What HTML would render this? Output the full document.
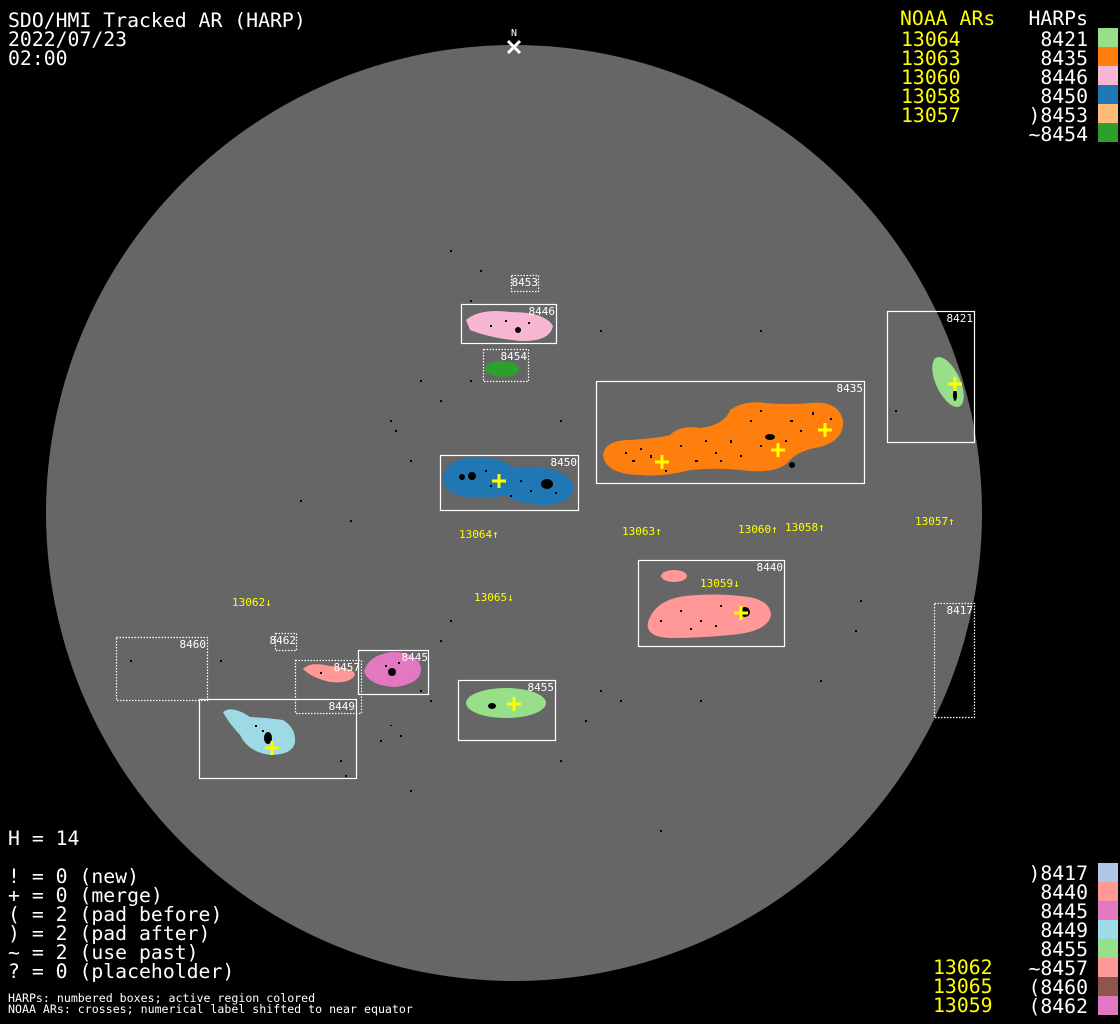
<!DOCTYPE html>
<html><head><meta charset="utf-8"><style>
html,body{margin:0;padding:0;background:#000;width:1120px;height:1024px;overflow:hidden}
svg{display:block}
.m{font-family:"DejaVu Sans Mono","Liberation Mono",monospace}
</style></head><body>
<svg width="1120" height="1024" viewBox="0 0 1120 1024" xmlns="http://www.w3.org/2000/svg">
<rect width="1120" height="1024" fill="#000"/>
<circle cx="514" cy="513" r="468" fill="#666"/>
<!-- scattered specks -->
<g fill="#000">
<rect x="450" y="250" width="2" height="2"/><rect x="470" y="300" width="2" height="2"/><rect x="420" y="380" width="2" height="2"/>
<rect x="390" y="420" width="2" height="2"/><rect x="600" y="330" width="2" height="2"/><rect x="560" y="420" width="2" height="2"/>
<rect x="410" y="460" width="2" height="2"/><rect x="350" y="520" width="2" height="2"/><rect x="450" y="620" width="2" height="2"/>
<rect x="430" y="700" width="2" height="2"/><rect x="380" y="740" width="2" height="2"/><rect x="600" y="690" width="2" height="2"/>
<rect x="860" y="600" width="2" height="2"/><rect x="820" y="680" width="2" height="2"/><rect x="700" y="700" width="2" height="2"/>
<rect x="660" y="830" width="2" height="2"/><rect x="410" y="790" width="2" height="2"/><rect x="300" y="500" width="2" height="2"/>
<rect x="760" y="330" width="2" height="2"/><rect x="480" y="270" width="2" height="2"/><rect x="220" y="660" width="2" height="2"/>
<rect x="130" y="660" width="2" height="2"/><rect x="340" y="760" width="2" height="2"/><rect x="560" y="760" width="2" height="2"/>
<rect x="440" y="400" width="2" height="2"/><rect x="395" y="430" width="2" height="2"/><rect x="420" y="690" width="2" height="2"/>
<rect x="400" y="735" width="2" height="2"/><rect x="390" y="725" width="2" height="1"/><rect x="440" y="640" width="2" height="2"/>
<rect x="585" y="720" width="2" height="2"/><rect x="620" y="700" width="2" height="2"/><rect x="345" y="775" width="2" height="2"/>
<rect x="855" y="630" width="2" height="2"/><rect x="895" y="410" width="2" height="2"/><rect x="470" y="380" width="2" height="2"/>
</g>
<!-- blobs -->
<path d="M466,320 Q480,308 510,312 Q545,312 553,326 Q550,342 520,341 Q490,338 470,330 Z" fill="#f7b6d2"/>
<ellipse cx="502" cy="369" rx="17" ry="8" fill="#2ca02c"/>
<ellipse cx="948" cy="382" rx="12" ry="27" transform="rotate(-25 948 382)" fill="#98df8a"/>
<path d="M603,455 Q605,440 630,440 Q660,438 670,435 Q680,425 700,428 Q725,425 730,410 Q745,400 765,403 Q790,405 810,403 Q838,400 843,420 Q845,440 820,447 Q800,450 790,460 Q780,473 750,471 Q720,467 690,470 Q665,477 640,475 Q605,474 603,455 Z" fill="#ff7f0e"/>
<path d="M443,478 Q445,458 480,457 Q500,458 515,468 Q535,465 555,470 Q575,478 573,490 Q570,505 540,505 Q515,503 505,495 Q490,500 470,497 Q443,495 443,478 Z" fill="#1f77b4"/>
<path d="M648,622 Q655,600 685,596 Q715,593 740,596 Q770,598 771,615 Q768,632 730,635 Q700,638 670,638 Q645,637 648,622 Z" fill="#ff9896"/>
<ellipse cx="674" cy="576" rx="13" ry="6" fill="#ff9896"/>
<path d="M303,669 Q310,661 330,666 Q355,668 355,675 Q350,684 330,682 Q312,678 303,669 Z" fill="#ff9896"/>
<path d="M364,672 Q368,655 392,652 Q420,652 421,670 Q420,684 395,687 Q370,686 364,672 Z" fill="#e377c2"/>
<ellipse cx="506" cy="703" rx="40" ry="15" fill="#98df8a"/>
<path d="M223,712 Q232,705 250,717 Q270,718 283,720 Q296,728 295,742 Q293,755 270,755 Q248,752 240,735 Q228,722 223,712 Z" fill="#9edae5"/>
<!-- spots -->
<g fill="#000">
<ellipse cx="547" cy="484" rx="6" ry="5"/><ellipse cx="472" cy="476" rx="4" ry="4"/><ellipse cx="462" cy="477" rx="3" ry="3"/><ellipse cx="770" cy="437" rx="5" ry="3"/>
<ellipse cx="792" cy="465" rx="3" ry="3"/><ellipse cx="745" cy="612" rx="5" ry="5"/><ellipse cx="268" cy="738" rx="4" ry="6"/>
<ellipse cx="392" cy="672" rx="4" ry="4"/><ellipse cx="492" cy="706" rx="4" ry="3"/><ellipse cx="518" cy="330" rx="3" ry="3"/>
<ellipse cx="955" cy="395" rx="2" ry="6"/>
</g>
<g fill="#000">
<rect x="625" y="452" width="2" height="2"/><rect x="632" y="460" width="3" height="2"/><rect x="640" y="448" width="2" height="2"/><rect x="650" y="455" width="2" height="3"/>
<rect x="680" y="445" width="2" height="2"/><rect x="695" y="460" width="3" height="2"/><rect x="705" y="440" width="2" height="2"/><rect x="715" y="452" width="2" height="2"/>
<rect x="730" y="440" width="2" height="3"/><rect x="740" y="455" width="2" height="2"/><rect x="750" y="420" width="2" height="2"/><rect x="760" y="410" width="2" height="2"/>
<rect x="790" y="420" width="3" height="2"/><rect x="800" y="430" width="2" height="2"/><rect x="812" y="412" width="2" height="3"/><rect x="830" y="418" width="2" height="2"/>
<rect x="720" y="460" width="2" height="2"/><rect x="760" y="445" width="2" height="2"/><rect x="785" y="440" width="2" height="2"/><rect x="665" y="470" width="2" height="2"/>
<rect x="485" y="470" width="2" height="2"/><rect x="490" y="485" width="2" height="2"/><rect x="520" y="480" width="2" height="2"/><rect x="530" y="490" width="2" height="2"/>
<rect x="555" y="492" width="2" height="2"/><rect x="510" y="495" width="2" height="2"/><rect x="660" y="620" width="2" height="2"/><rect x="680" y="610" width="2" height="2"/>
<rect x="700" y="620" width="2" height="2"/><rect x="690" y="628" width="2" height="2"/><rect x="720" y="605" width="2" height="2"/><rect x="715" y="625" width="2" height="2"/>
<rect x="505" y="320" width="2" height="2"/><rect x="528" y="322" width="2" height="2"/><rect x="490" y="325" width="2" height="2"/><rect x="385" y="665" width="2" height="2"/>
<rect x="398" y="662" width="2" height="2"/><rect x="320" y="672" width="2" height="2"/><rect x="262" y="730" width="2" height="2"/><rect x="255" y="725" width="2" height="2"/>
</g>
<!-- boxes -->
<g fill="none" stroke="#fff" stroke-width="1.2">
<rect x="461.5" y="304.5" width="95" height="39"/>
<rect x="887.5" y="311.5" width="87" height="131"/>
<rect x="596.5" y="381.5" width="268" height="102"/>
<rect x="440.5" y="455.5" width="138" height="55"/>
<rect x="638.5" y="560.5" width="146" height="86"/>
<rect x="358.5" y="650.5" width="70" height="44"/>
<rect x="458.5" y="680.5" width="97" height="60"/>
<rect x="199.5" y="699.5" width="157" height="79"/>
</g>
<g fill="none" stroke="#fff" stroke-width="1.2" stroke-dasharray="1.5,1.5">
<rect x="511.5" y="275.5" width="27" height="16"/>
<rect x="483.5" y="349.5" width="45" height="32"/>
<rect x="934.5" y="603.5" width="40" height="114"/>
<rect x="116.5" y="637.5" width="91" height="63"/>
<rect x="275.5" y="633.5" width="21" height="17"/>
<rect x="295.5" y="660.5" width="66" height="53"/>
</g>
<!-- crosses -->
<g stroke="#ff0" stroke-width="3">
<path d="M655,462h14M662,455v14"/><path d="M771,450h14M778,443v14"/><path d="M818,430h14M825,423v14"/>
<path d="M492,481h14M499,474v14"/><path d="M734,613h14M741,606v14"/><path d="M507,704h14M514,697v14"/>
<path d="M265,748h14M272,741v14"/><path d="M948,384h14M955,377v14"/>
</g>
<!-- N -->
<path d="M508,41l12,12M520,41l-12,12" stroke="#fff" stroke-width="3"/>
<text x="514" y="36" class="m" font-size="10" fill="#fff" text-anchor="middle">N</text>
<!-- box labels -->
<g class="m" font-size="11" fill="#fff" text-anchor="end">
<text x="538" y="286">8453</text><text x="555" y="315">8446</text><text x="527" y="360">8454</text>
<text x="973" y="322">8421</text><text x="863" y="392">8435</text><text x="577" y="466">8450</text>
<text x="783" y="571">8440</text><text x="973" y="614">8417</text><text x="206" y="648">8460</text>
<text x="296" y="644">8462</text><text x="360" y="671">8457</text><text x="428" y="661">8445</text>
<text x="554" y="691">8455</text><text x="355" y="710">8449</text>
</g>
<g class="m" font-size="11" fill="#ff0">
<text x="459" y="538">13064↑</text><text x="622" y="535">13063↑</text><text x="738" y="533">13060↑</text>
<text x="785" y="531">13058↑</text><text x="915" y="525">13057↑</text><text x="700" y="587">13059↓</text>
<text x="232" y="606">13062↓</text><text x="474" y="601">13065↓</text>
</g>
<!-- header -->
<g class="m" font-size="19.8" fill="#fff">
<text x="8" y="27">SDO/HMI Tracked AR (HARP)</text>
<text x="8" y="46">2022/07/23</text>
<text x="8" y="65">02:00</text>
<text x="8" y="845">H = 14</text>
<text x="8" y="883">! = 0 (new)</text>
<text x="8" y="902">+ = 0 (merge)</text>
<text x="8" y="921">( = 2 (pad before)</text>
<text x="8" y="940">) = 2 (pad after)</text>
<text x="8" y="959">~ = 2 (use past)</text>
<text x="8" y="978">? = 0 (placeholder)</text>
</g>
<g class="m" font-size="11.6" fill="#fff">
<text x="8" y="1002">HARPs: numbered boxes; active region colored</text>
<text x="8" y="1013">NOAA ARs: crosses; numerical label shifted to near equator</text>
</g>
<!-- right legend -->
<g class="m" font-size="19.8" fill="#ff0">
<text x="900" y="25">NOAA ARs</text>
<text x="901" y="46">13064</text><text x="901" y="65">13063</text><text x="901" y="84">13060</text>
<text x="901" y="103">13058</text><text x="901" y="122">13057</text>
<text x="933" y="974">13062</text><text x="933" y="993">13065</text><text x="933" y="1012">13059</text>
</g>
<g class="m" font-size="19.8" fill="#fff" text-anchor="end">
<text x="1088" y="25">HARPs</text>
<text x="1088" y="46">8421</text><text x="1088" y="65">8435</text><text x="1088" y="84">8446</text>
<text x="1088" y="103">8450</text><text x="1088" y="122">)8453</text><text x="1088" y="141">~8454</text>
<text x="1088" y="880">)8417</text><text x="1088" y="899">8440</text><text x="1088" y="918">8445</text>
<text x="1088" y="937">8449</text><text x="1088" y="956">8455</text><text x="1088" y="975">~8457</text>
<text x="1088" y="994">(8460</text><text x="1088" y="1013">(8462</text>
</g>
<rect x="1098" y="28" width="20" height="19" fill="#98df8a"/>
<rect x="1098" y="47" width="20" height="19" fill="#ff7f0e"/>
<rect x="1098" y="66" width="20" height="19" fill="#f7b6d2"/>
<rect x="1098" y="85" width="20" height="19" fill="#1f77b4"/>
<rect x="1098" y="104" width="20" height="19" fill="#ffbb78"/>
<rect x="1098" y="123" width="20" height="19" fill="#2ca02c"/>
<rect x="1098" y="863" width="20" height="19" fill="#aec7e8"/>
<rect x="1098" y="882" width="20" height="19" fill="#ff9896"/>
<rect x="1098" y="901" width="20" height="19" fill="#e377c2"/>
<rect x="1098" y="920" width="20" height="19" fill="#9edae5"/>
<rect x="1098" y="939" width="20" height="19" fill="#98df8a"/>
<rect x="1098" y="958" width="20" height="19" fill="#ff9896"/>
<rect x="1098" y="977" width="20" height="19" fill="#8c564b"/>
<rect x="1098" y="996" width="20" height="19" fill="#e377c2"/>
</svg>
</body></html>
